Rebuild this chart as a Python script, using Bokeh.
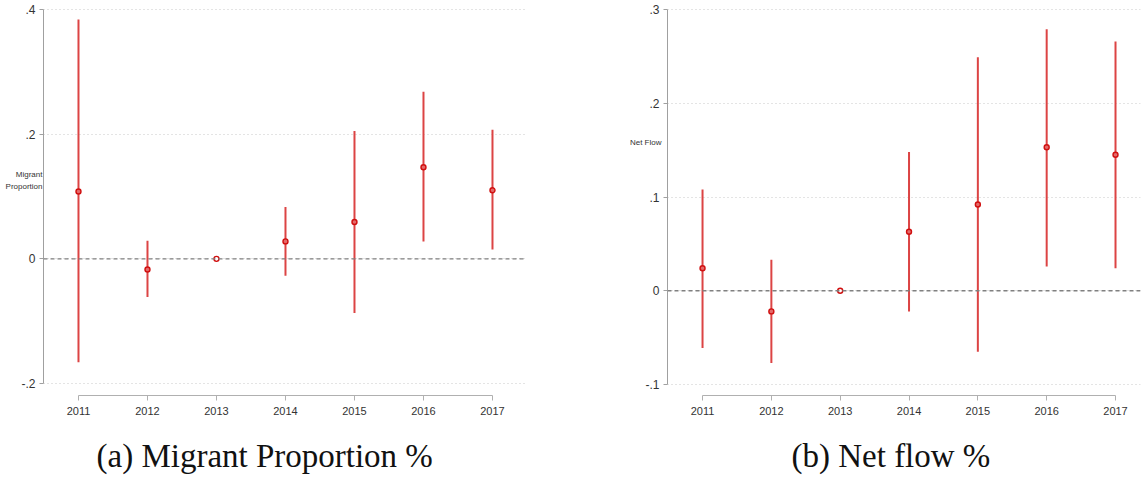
from bokeh.plotting import figure
from bokeh.models import (Range1d, FixedTicker, Span, Title, ColumnDataSource)
from bokeh.layouts import row
from bokeh.embed import file_html
from bokeh.resources import INLINE

years = [2011, 2012, 2013, 2014, 2015, 2016, 2017]

mp_coef = [0.108, -0.017, 0.0, 0.028, 0.059, 0.147, 0.110]
mp_lo = [-0.166, -0.061, 0.0, -0.027, -0.087, 0.028, 0.015]
mp_hi = [0.384, 0.029, 0.0, 0.083, 0.205, 0.268, 0.207]

nf_coef = [0.024, -0.022, 0.0, 0.063, 0.092, 0.153, 0.145]
nf_lo = [-0.061, -0.077, 0.0, -0.022, -0.065, 0.026, 0.024]
nf_hi = [0.108, 0.033, 0.0, 0.148, 0.249, 0.279, 0.266]

mp_yticks = [-0.2, 0.0, 0.2, 0.4]
mp_ylabels = ["-.2", "0", ".2", ".4"]
nf_yticks = [-0.1, 0.0, 0.1, 0.2, 0.3]
nf_ylabels = ["-.1", "0", ".1", ".2", ".3"]

LINE_RED = "#dc4444"
PT_RED = "#d01010"
TICK_FONT = "Liberation Sans"


def panel(coef, lo, hi, yticks, ylabels, yr, xr, ylab, ylab_standoff,
          caption, cap_off, bl, fw, br):
    p = figure(width=bl + fw + br, height=488, frame_width=fw, frame_height=392,
               min_border_left=bl, min_border_right=br, min_border_top=3,
               min_border_bottom=93,
               x_range=Range1d(*xr), y_range=Range1d(*yr),
               output_backend="svg", toolbar_location=None)
    p.outline_line_color = None
    p.background_fill_color = "white"
    p.border_fill_color = "white"

    p.xgrid.visible = False
    p.ygrid.ticker = FixedTicker(ticks=yticks)
    p.ygrid.grid_line_color = "#c8c8c8"
    p.ygrid.grid_line_dash = "1 3"
    p.ygrid.grid_line_width = 1

    ya = p.yaxis[0]
    ya.ticker = FixedTicker(ticks=yticks)
    ya.major_label_overrides = {t: l for t, l in zip(yticks, ylabels)}
    ya.bounds = (yticks[0], yticks[-1])
    ya.axis_line_color = "#a0a0a0"
    ya.major_tick_line_color = "#a0a0a0"
    ya.major_tick_out = 4
    ya.major_tick_in = 0
    ya.minor_tick_line_color = None
    ya.major_label_text_font = TICK_FONT
    ya.major_label_text_font_size = "12px"
    ya.major_label_text_color = "#333333"
    ya.major_label_standoff = 4
    ya.axis_label = ylab
    ya.axis_label_orientation = "horizontal"
    ya.axis_label_standoff = ylab_standoff
    ya.axis_label_text_font = TICK_FONT
    ya.axis_label_text_font_size = "8px"
    ya.axis_label_text_font_style = "normal"
    ya.axis_label_text_color = "#333333"
    ya.axis_label_text_line_height = 1.4

    xa = p.xaxis[0]
    xa.ticker = FixedTicker(ticks=years)
    xa.bounds = (years[0], years[-1])
    xa.axis_line_color = "#b0b0b0"
    xa.major_tick_line_color = "#b0b0b0"
    xa.major_tick_out = 5
    xa.major_tick_in = 0
    xa.minor_tick_line_color = None
    xa.major_label_text_font = TICK_FONT
    xa.major_label_text_font_size = "11px"
    xa.major_label_text_color = "#333333"
    xa.major_label_standoff = 6

    p.add_layout(Span(location=0, dimension="width", line_color="#808080",
                      line_dash="4 3", line_width=1.3))

    fills = ["#e46a6a" if c != 0 else "white" for c in coef]
    src = ColumnDataSource(dict(x=years, c=coef, lo=lo, hi=hi, f=fills))
    p.segment(x0="x", y0="lo", x1="x", y1="hi", source=src,
              line_color=LINE_RED, line_width=2)
    p.scatter(x="x", y="c", source=src, size=5, marker="circle",
              line_color=PT_RED, line_width=1.4, fill_color="f")

    t = Title(text=caption, align="left", offset=cap_off,
              text_font="Liberation Serif", text_font_size="33px",
              text_font_style="normal", text_color="#111111", standoff=37)
    p.add_layout(t, "below")
    return p


p1 = panel(mp_coef, mp_lo, mp_hi, mp_yticks, mp_ylabels,
           (-0.2192, 0.4096), (2010.493, 2017.493),
           "Migrant\nProportion\n \n \n ", -24,
           "(a) Migrant Proportion %", 53, 43, 483, 45)
p2 = panel(nf_coef, nf_lo, nf_hi, nf_yticks, nf_ylabels,
           (-0.1117, 0.3064), (2010.491, 2017.363),
           "Net Flow" + "\n " * 9, -19,
           "(b) Net flow %", 124, 96, 473, 2)

p = row(p1, p2)
open("out.html", "w").write(file_html(p, INLINE))
